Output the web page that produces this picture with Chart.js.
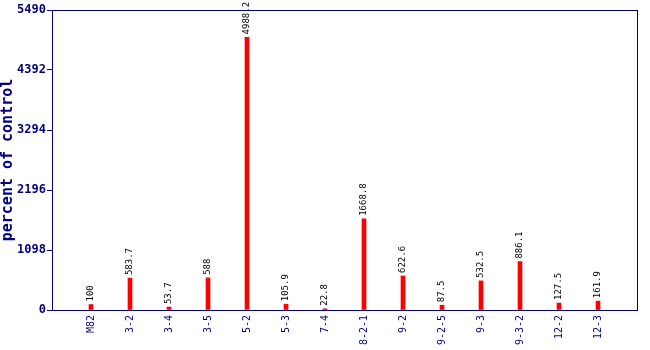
<!DOCTYPE html>
<html>
<head>
<meta charset="utf-8">
<script src="https://cdn.jsdelivr.net/npm/chart.js@4/dist/chart.umd.min.js"></script>
<style>
  body { margin: 0; background: #fff; }
  canvas { display: block; }
</style>
</head>
<body>
<canvas id="chart" width="650" height="350"></canvas>
<script>
// samples and their expression (percent of control)
const categories = ['M82', '3-2', '3-4', '3-5', '5-2', '5-3', '7-4', '8-2-1', '9-2', '9-2-5', '9-3', '9-3-2', '12-2', '12-3'];
const values = [100, 583.7, 53.7, 588, 4988.2, 105.9, 22.8, 1668.8, 622.6, 87.5, 532.5, 886.1, 127.5, 161.9];
const yTicks = [0, 1098, 2196, 3294, 4392, 5490];

const NAVY = '#000080';
const MONO = '"DejaVu Sans Mono", monospace';

// empty slots on both ends leave a gap before the first and after the last bar
const labels = [''].concat(categories, ['']);
const data = [null].concat(values, [null]);

// value text written upward above each bar
const valueLabels = {
  id: 'valueLabels',
  afterDatasetsDraw(chart) {
    const ctx = chart.ctx;
    const meta = chart.getDatasetMeta(0);
    ctx.save();
    ctx.font = '9px ' + MONO;
    ctx.fillStyle = '#000';
    ctx.textAlign = 'left';
    ctx.textBaseline = 'middle';
    meta.data.forEach((bar, i) => {
      if (data[i] === null) return;
      ctx.save();
      ctx.translate(bar.x, bar.y - 3);
      ctx.rotate(-Math.PI / 2);
      ctx.fillText(String(data[i]), 0, 0);
      ctx.restore();
    });
    ctx.restore();
  }
};

// box around the plot area
const frame = {
  id: 'frame',
  afterDraw(chart) {
    const a = chart.chartArea;
    const ctx = chart.ctx;
    ctx.save();
    ctx.strokeStyle = NAVY;
    ctx.lineWidth = 1;
    ctx.strokeRect(a.left + 0.5, a.top + 0.5, a.right - a.left, a.bottom - a.top);
    ctx.restore();
  }
};

new Chart(document.getElementById('chart'), {
  type: 'bar',
  data: {
    labels: labels,
    datasets: [{
      data: data,
      backgroundColor: '#ff0000',
      barThickness: 4
    }]
  },
  options: {
    responsive: false,
    animation: false,
    devicePixelRatio: 1,
    layout: { padding: { top: 10, right: 13, left: 0, bottom: 0 } },
    plugins: { legend: { display: false }, tooltip: { enabled: false } },
    scales: {
      x: {
        offset: false,
        grid: { display: false, drawTicks: false },
        border: { color: NAVY },
        ticks: {
          autoSkip: false,
          maxRotation: 90,
          minRotation: 90,
          padding: 5,
          color: NAVY,
          font: { family: MONO, size: 10 }
        },
        afterFit: s => {
          s.height = 40;
          s.paddingLeft = 0;
          s.paddingRight = 0;
        }
      },
      y: {
        min: 0,
        max: yTicks[yTicks.length - 1],
        afterBuildTicks: s => { s.ticks = yTicks.map(v => ({ value: v })); },
        grid: { drawOnChartArea: false, drawTicks: true, tickLength: 5, color: NAVY },
        border: { color: NAVY },
        ticks: {
          padding: 1,
          color: NAVY,
          font: { family: MONO, size: 12, weight: 'bold' },
          callback: v => String(v)
        },
        title: {
          display: true,
          text: 'percent of control',
          color: NAVY,
          padding: 0,
          font: { family: MONO, size: 15, weight: 'bold', lineHeight: 1.1 }
        },
        afterFit: s => { s.width = 52; }
      }
    }
  },
  plugins: [valueLabels, frame]
});
</script>
</body>
</html>
